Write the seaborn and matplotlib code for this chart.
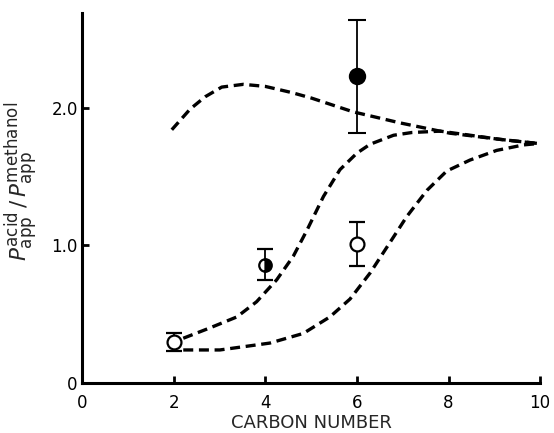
import matplotlib
matplotlib.use("Agg")
import matplotlib.pyplot as plt
import matplotlib._mathtext as _mt
import seaborn as sns
import pandas as pd

# Measured points
carbon_open = [2, 6]
ratio_open = [0.30, 1.01]
err_open = [0.065, 0.16]

carbon_half = [4]
ratio_half = [0.86]
err_half = [0.115]

carbon_filled = [6]
ratio_filled = [2.23]
err_filled = [0.41]

# Dashed model curves
curve1_x = [1.96, 2.36, 2.69, 3.05, 3.52, 4.0, 4.58, 5.01, 5.92, 6.94, 8.03, 9.13, 9.96]
curve1_y = [1.84, 1.99, 2.08, 2.15, 2.17, 2.155, 2.11, 2.07, 1.97, 1.89, 1.815, 1.77, 1.74]

curve2_x = [2.21, 2.79, 3.38, 3.81, 4.25, 4.61, 4.91, 5.27, 5.63, 6.0, 6.29, 6.80, 7.2, 7.82, 9.13, 9.96]
curve2_y = [0.325, 0.40, 0.48, 0.59, 0.75, 0.92, 1.11, 1.355, 1.55, 1.67, 1.735, 1.80, 1.82, 1.83, 1.77, 1.74]

curve3_x = [2.21, 3.01, 4.10, 4.83, 5.41, 5.85, 6.29, 6.72, 7.09, 7.53, 7.96, 8.47, 9.05, 9.64, 9.96]
curve3_y = [0.24, 0.24, 0.29, 0.36, 0.48, 0.61, 0.80, 1.02, 1.21, 1.40, 1.54, 1.62, 1.69, 1.73, 1.74]

sns.set_theme(style="ticks")
plt.rcParams['font.family'] = ['DejaVu Sans']
plt.rcParams['mathtext.fontset'] = 'dejavusans'
_mt.SHRINK_FACTOR = 0.78

fig = plt.figure(figsize=(5.54, 4.33), dpi=100)
ax = fig.add_axes([0.148, 0.1155, 0.827, 0.855])

for cx, cy in [(curve1_x, curve1_y), (curve2_x, curve2_y), (curve3_x, curve3_y)]:
    df = pd.DataFrame({"x": cx, "y": cy})
    sns.lineplot(data=df, x="x", y="y", ax=ax, color="black", lw=2.4,
                 linestyle=(0, (3.0, 1.7)), sort=False)
for line in ax.get_lines():
    line.set_solid_joinstyle('round')
    line.set_dash_joinstyle('round')

ax.errorbar(carbon_open, ratio_open, yerr=err_open, fmt='o', mfc='white',
            mec='black', ms=10, mew=1.6, ecolor='black', elinewidth=1.3,
            capsize=5.5, capthick=1.4, zorder=5)
ax.errorbar(carbon_half, ratio_half, yerr=err_half, fmt='o', mfc='black',
            mfcalt='white', fillstyle='right', mec='black', ms=9, mew=1.6,
            ecolor='black', elinewidth=1.3, capsize=5.5, capthick=1.4, zorder=5)
ax.errorbar(carbon_filled, ratio_filled, yerr=err_filled, fmt='o', mfc='black',
            mec='black', ms=11, mew=1.5, ecolor='black', elinewidth=1.3,
            capsize=6.5, capthick=1.4, zorder=5)

ax.set_xlim(0, 10)
ax.set_ylim(0, 2.69)
ax.set_xticks([0, 2, 4, 6, 8, 10])
ax.set_xticklabels(["0", "2", "4", "6", "8", "10"])
ax.set_yticks([0, 1.0, 2.0])
ax.set_yticklabels(["0", "1.0", "2.0"])
ax.tick_params(direction='in', length=5, width=2, labelsize=12, colors='black')
ax.tick_params(axis='x', pad=8)
ax.tick_params(axis='y', pad=3)
for s in ['top', 'right']:
    ax.spines[s].set_visible(False)
for s in ['left', 'bottom']:
    ax.spines[s].set_linewidth(2.2)
    ax.spines[s].set_color('black')

ax.set_xlabel("CARBON NUMBER", fontsize=13)
ax.xaxis.set_label_coords(0.5, -0.085)
ax.xaxis.label.set_va('top')
ax.set_ylabel(r"$P_{\rm app}^{\rm acid}\,/\,P_{\rm app}^{\rm methanol}$", fontsize=15.5)
ax.yaxis.set_label_coords(-0.09, 0.545)

fig.savefig("out.png", dpi=100)
